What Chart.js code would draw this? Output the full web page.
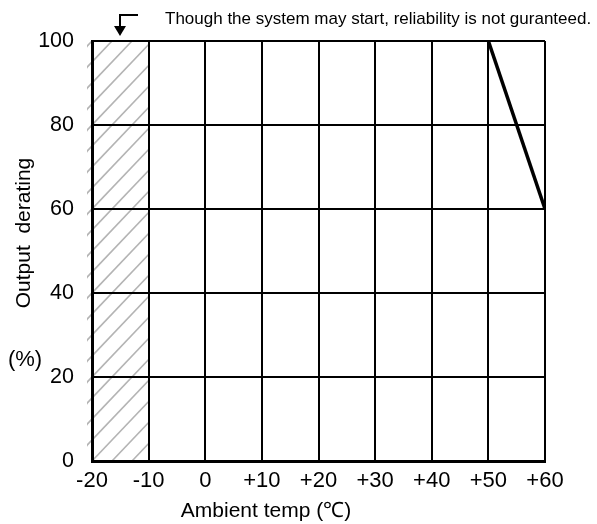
<!DOCTYPE html>
<html>
<head>
<meta charset="utf-8">
<script src="https://cdn.jsdelivr.net/npm/chart.js@4"></script>
<style>
html,body{margin:0;padding:0;background:#fff;}
#wrap{width:597px;height:524px;position:relative;}
</style>
</head>
<body>
<div id="wrap"><canvas id="c"></canvas></div>
<script>
// Data
const xTicks = [-20, -10, 0, 10, 20, 30, 40, 50, 60];
const yTicks = [0, 20, 40, 60, 80, 100];
const deratingTemp = [50, 60];
const deratingOutput = [100, 60];
const hatchRange = [-20, -10];
const noteText = "Though the system may start, reliability is not guranteed.";
const xTitle = "Ambient temp (\u2103)";
const yTitle = "Output  derating";
const yUnit = "(%)";

const FONT = "'Liberation Sans', Arial, sans-serif";

const hatchPlugin = {
  id: 'hatch',
  beforeDraw(chart) {
    const {ctx, chartArea, scales} = chart;
    const x0 = scales.x.getPixelForValue(hatchRange[0]);
    const x1 = scales.x.getPixelForValue(hatchRange[1]);
    const top = chartArea.top, bottom = chartArea.bottom;
    const H = bottom - top;
    ctx.save();
    ctx.beginPath();
    ctx.rect(x0 - 5, top, x1 - x0 + 5, H);
    ctx.clip();
    ctx.strokeStyle = '#b4b4b4';
    ctx.lineWidth = 1.6;
    const slope = 1.05;
    for (let t = x0 - H / slope - 40; t < x1 + 20; t += 20) {
      ctx.beginPath();
      ctx.moveTo(t, bottom);
      ctx.lineTo(t + H / slope, top);
      ctx.stroke();
    }
    ctx.restore();
  }
};

const textPlugin = {
  id: 'texts',
  afterDraw(chart) {
    const {ctx} = chart;
    ctx.save();
    ctx.fillStyle = '#000';
    // note text
    ctx.font = "17px " + FONT;
    ctx.textAlign = 'left';
    ctx.textBaseline = 'alphabetic';
    ctx.fillText(noteText, 165, 24);
    // arrow
    ctx.strokeStyle = '#000';
    ctx.lineWidth = 2;
    ctx.beginPath();
    ctx.moveTo(138, 15);
    ctx.lineTo(120, 15);
    ctx.lineTo(120, 27);
    ctx.stroke();
    ctx.beginPath();
    ctx.moveTo(114, 26);
    ctx.lineTo(126, 26);
    ctx.lineTo(120, 36);
    ctx.closePath();
    ctx.fill();
    // x title
    ctx.font = "21px " + FONT;
    ctx.textAlign = 'center';
    ctx.textBaseline = 'middle';
    ctx.fillText(xTitle, 266, 511);
    // y title rotated
    ctx.save();
    ctx.translate(24, 233);
    ctx.rotate(-Math.PI / 2);
    ctx.fillText(yTitle, 0, 0);
    ctx.restore();
    // unit
    ctx.font = "22px " + FONT;
    ctx.fillText(yUnit, 25, 360);
    ctx.restore();
  }
};

new Chart(document.getElementById('c'), {
  type: 'scatter',
  data: {
    datasets: [{
      data: deratingTemp.map((t, i) => ({x: t, y: deratingOutput[i]})),
      showLine: true,
      borderColor: '#000',
      borderWidth: 3.5,
      pointRadius: 0,
      fill: false
    }]
  },
  options: {
    responsive: true,
    maintainAspectRatio: false,
    animation: false,
    devicePixelRatio: 1,
    layout: {padding: {left: 0, top: 41, right: 52, bottom: 0}},
    plugins: {legend: {display: false}, tooltip: {enabled: false}, title: {display: false}},
    scales: {
      x: {
        type: 'linear',
        min: -20, max: 60,
        afterFit(s) { s.height = 63; },
        afterBuildTicks(s) { s.ticks = xTicks.map(v => ({value: v})); },
        grid: {color: '#000', lineWidth: 2, drawTicks: false},
        border: {display: true, color: '#000', width: 3},
        ticks: {
          color: '#000', padding: 7, maxRotation: 0, autoSkip: false,
          font: {size: 22, family: FONT},
          callback: v => v > 0 ? '+' + v : String(v)
        }
      },
      y: {
        min: 0, max: 100,
        afterFit(s) { s.width = 92; },
        afterBuildTicks(s) { s.ticks = yTicks.map(v => ({value: v})); },
        grid: {color: '#000', lineWidth: 2, drawTicks: false},
        border: {display: true, color: '#000', width: 3},
        ticks: {
          color: '#000', padding: 18, autoSkip: false,
          font: {size: 21.5, family: FONT}
        }
      }
    }
  },
  plugins: [hatchPlugin, textPlugin]
});
</script>
</body>
</html>
